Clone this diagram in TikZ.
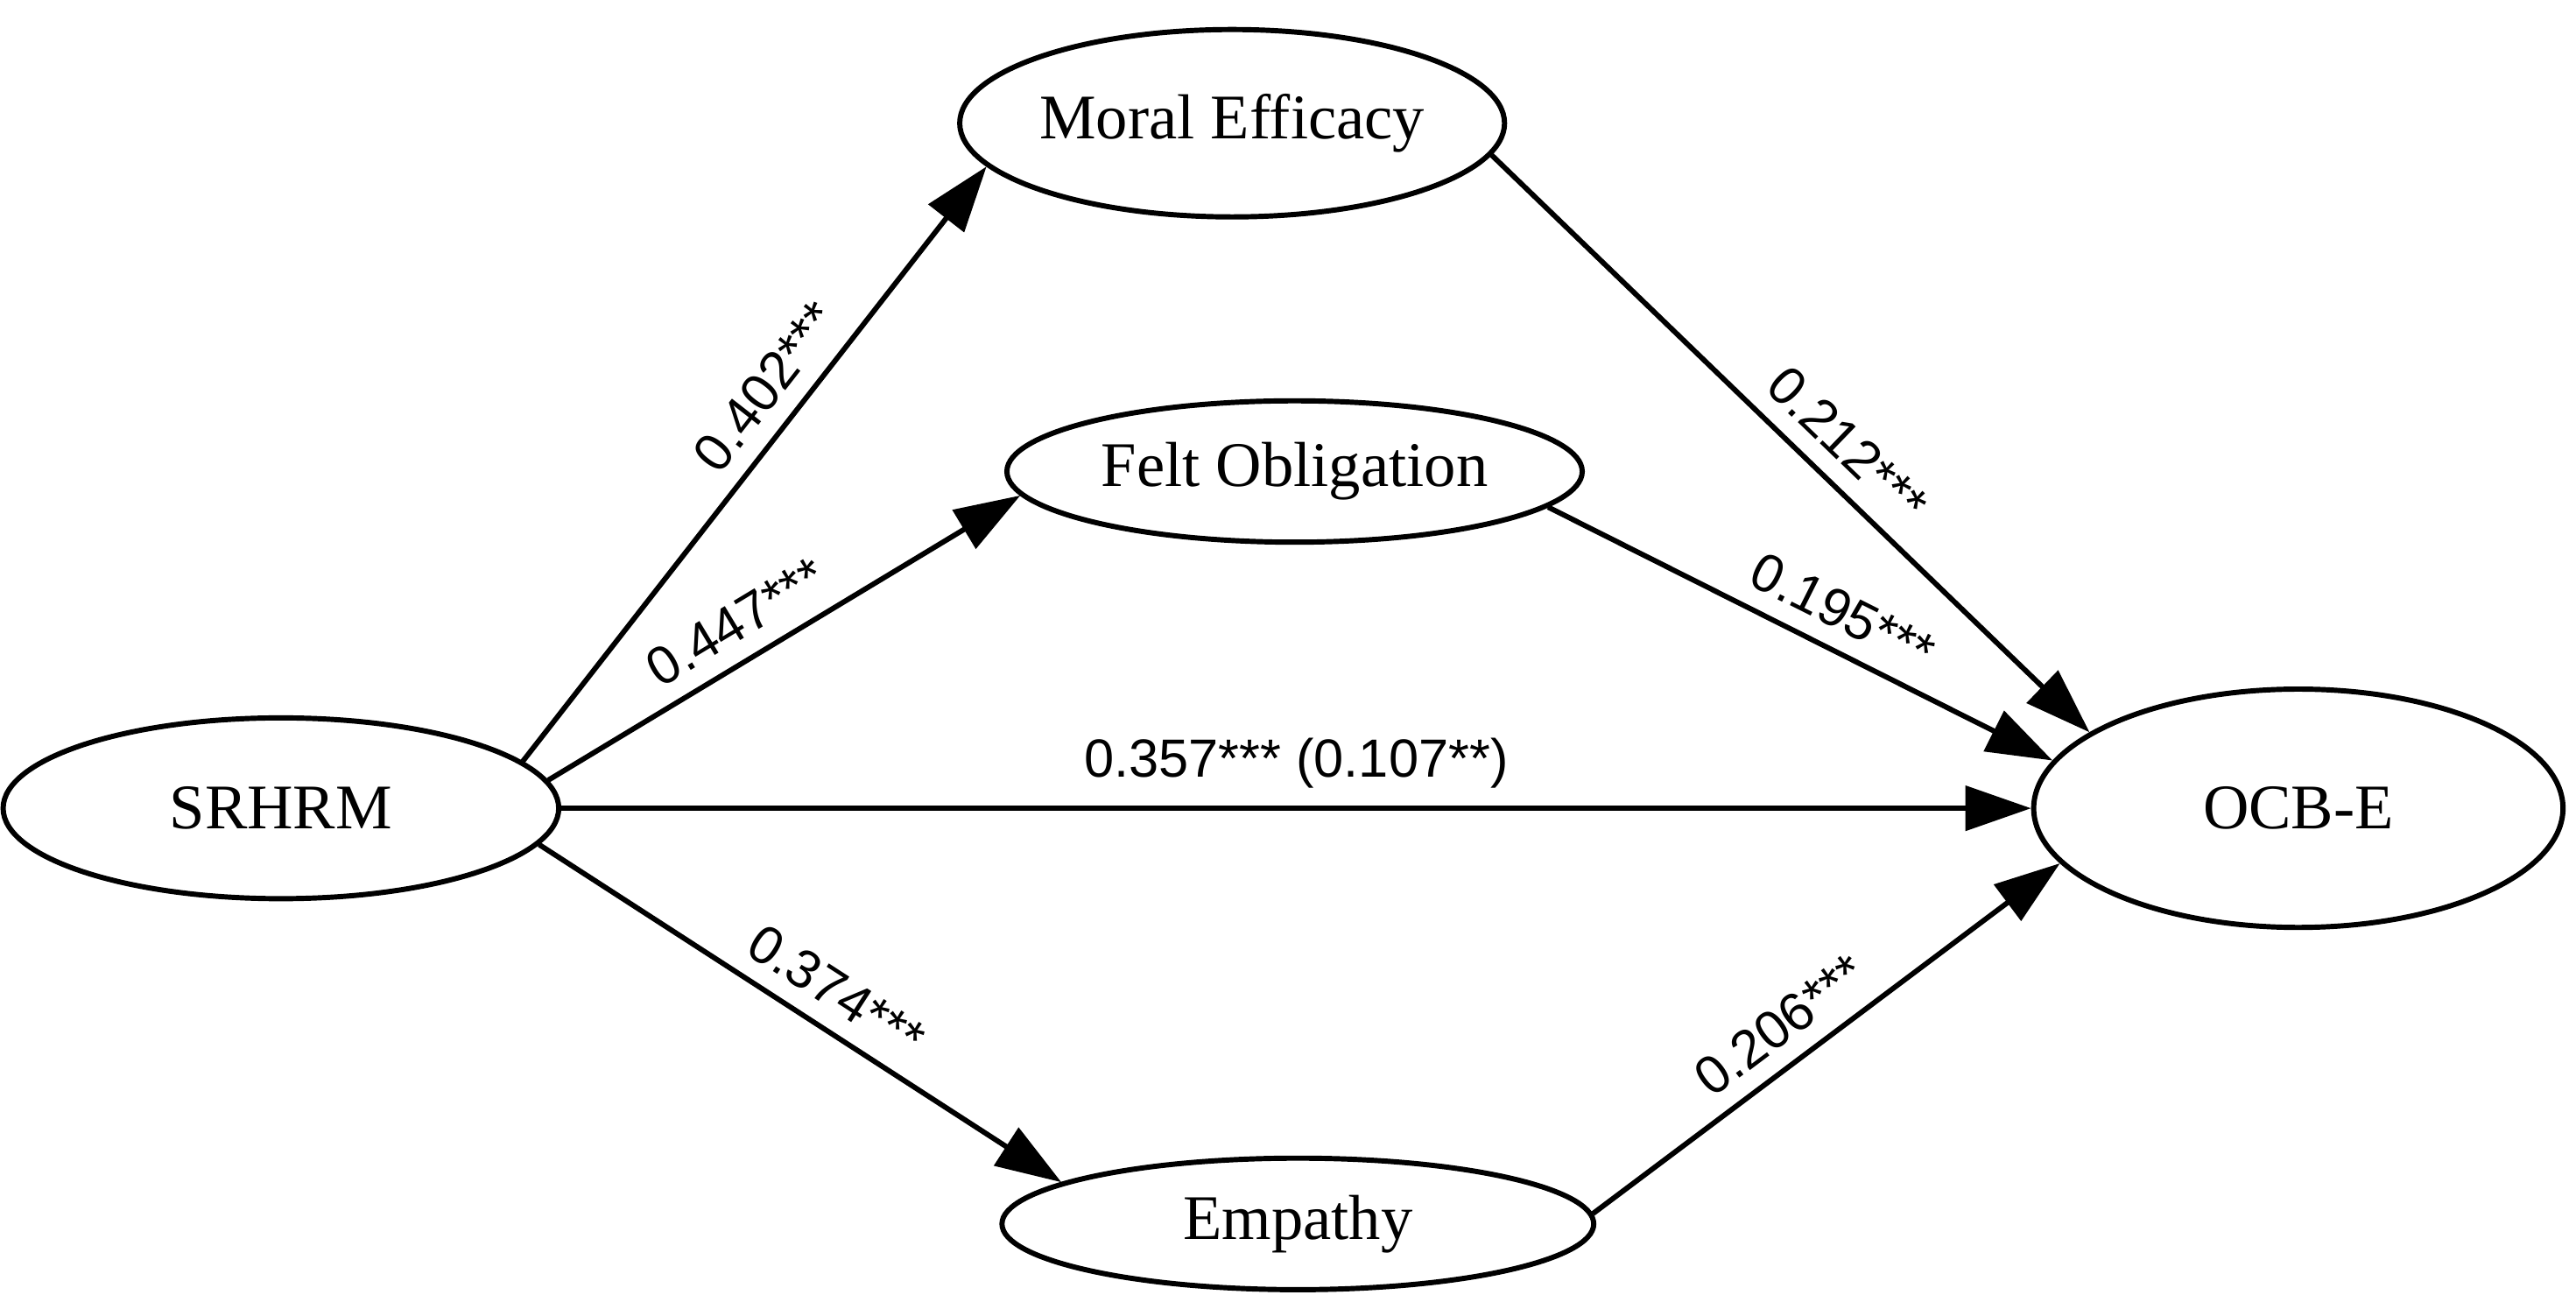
\documentclass[tikz,border=0pt]{standalone}
\usepackage{fontspec}
\setmainfont{Liberation Serif}
\newfontfamily\lblfont{Liberation Sans}
\usetikzlibrary{arrows.meta,shapes.geometric}
\begin{document}
\begin{tikzpicture}[x=0.01cm,y=-0.01cm,
  var/.style={draw,ellipse,line width=0.9pt,inner sep=0pt,font=\fontsize{11}{13}\selectfont},
  path/.style={line width=0.9pt,-{Triangle[length=4mm,width=2.7mm]}},
  lbl/.style={font=\lblfont\fontsize{9.3}{11}\selectfont,sloped,above,inner sep=3pt}]
\useasboundingbox (0,0) rectangle (1568,788);
\node[var,minimum width=2.95cm,minimum height=1.14cm] (me) at (750,75) {Moral Efficacy};
\node[var,minimum width=3.5cm,minimum height=0.86cm] (fo) at (788,287) {Felt Obligation};
\node[var,minimum width=3.38cm,minimum height=1.1cm] (sr) at (171,492) {SRHRM};
\node[var,minimum width=3.22cm,minimum height=1.45cm] (oc) at (1399,492) {OCB-E};
\node[var,minimum width=3.6cm,minimum height=0.8cm] (em) at (790,745) {Empathy};
\draw[path] (sr.11) -- node[lbl,pos=0.59]{0.402***} (me.190);
\draw[path] (sr.6) -- node[lbl,pos=0.44]{0.447***} (fo.185);
\draw[path] (sr.east) -- node[lbl,pos=0.5]{0.357*** (0.107**)} (oc.west);
\draw[path] (sr.-8) -- node[lbl,pos=0.53]{0.374***} (em.170);
\draw[path] (me.-7) -- node[lbl,pos=0.55]{0.212***} (oc.160);
\draw[path] (fo.-8) -- node[lbl,pos=0.55]{0.195***} (oc.169);
\draw[path] (em.2) -- node[lbl,pos=0.45]{0.206***} (oc.193);
\end{tikzpicture}
\end{document}
